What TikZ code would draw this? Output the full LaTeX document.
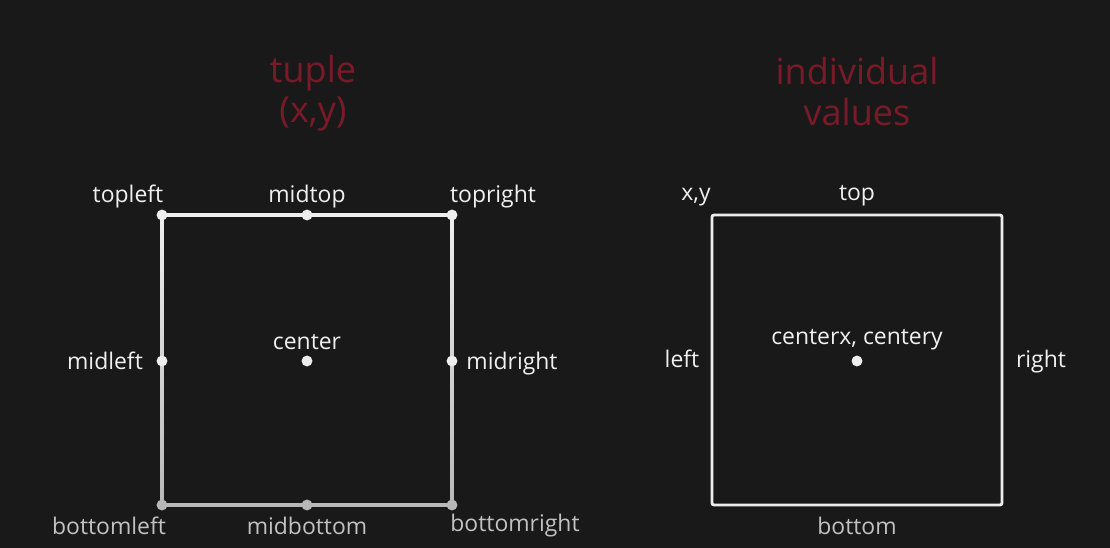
\documentclass[tikz,border=0pt]{standalone}
\usepackage{fontspec}
\setmainfont{Open Sans}
\definecolor{bg}{HTML}{191919}
\definecolor{titlered}{HTML}{7A1A28}
\definecolor{lbl}{HTML}{F0F0F0}
\definecolor{lblgray}{HTML}{C2C2C2}
\definecolor{linew}{HTML}{EEEEEE}
\definecolor{lineg}{HTML}{B8B8B8}
\begin{document}
\begin{tikzpicture}[x=0.75pt,y=-0.75pt,
  lab/.style={font=\fontsize{17.2}{19}\selectfont, text=lbl, inner sep=0pt, anchor=base},
  labg/.style={lab, text=lblgray},
  ttl/.style={font=\fontsize{27}{31}\selectfont, text=titlered, inner sep=0pt, anchor=base},
  dotw/.style={circle, fill=linew, minimum size=8.2pt, inner sep=0pt},
  dotg/.style={circle, fill=lineg, minimum size=8.2pt, inner sep=0pt},
  edgew/.style={draw=linew, line width=2.3pt},
  edgeg/.style={draw=lineg, line width=2.3pt}]
\fill[bg] (0,0) rectangle (1110,548);
\useasboundingbox (0,0) rectangle (1110,548);

% titles
\node[ttl] (t1) at (313,83) {tuple};
\node[ttl] (t2) at (313,123) {(x,y)};
\node[ttl] (t3) at (857,85) {individual};
\node[ttl] (t4) at (857,126) {values};

% left box points
\coordinate (TL) at (162,215);
\coordinate (TM) at (307,215);
\coordinate (TR) at (452,215);
\coordinate (ML) at (162,361);
\coordinate (MR) at (452,361);
\coordinate (BL) at (162,505);
\coordinate (BM) at (307,505);
\coordinate (BR) at (452,505);
\coordinate (C) at (307,361);

% left vertical edges with fade
\shade[top color=linew, bottom color=lineg] (160.6,215) rectangle (163.4,505);
\shade[top color=linew, bottom color=lineg] (450.6,215) rectangle (453.4,505);
\draw[edgew] (TL) -- (TR);
\draw[edgeg] (BL) -- (BR);

\node[dotw] (dTL) at (TL) {};
\node[dotw] (dTM) at (TM) {};
\node[dotw] (dTR) at (TR) {};
\node[dotw] (dML) at (ML) {};
\node[dotw] (dMR) at (MR) {};
\node[dotw] (dC) at (C) {};
\node[dotg] (dBL) at (BL) {};
\node[dotg] (dBM) at (BM) {};
\node[dotg] (dBR) at (BR) {};

\node[lab] (ltl) at (128,203) {topleft};
\node[lab] (ltm) at (307,203) {midtop};
\node[lab] (ltr) at (493,203) {topright};
\node[lab] (lml) at (105,370) {midleft};
\node[lab] (lc) at (307,350) {center};
\node[lab] (lmr) at (512,370) {midright};
\node[labg] (lbl) at (109,535) {bottomleft};
\node[labg] (lbm) at (307,535) {midbottom};
\node[labg] (lbr) at (515,532) {bottomright};

% right box
\draw[draw=linew, line width=2.1pt, rounded corners=1.5pt] (712,215) rectangle (1002,505);
\node[dotw] (rC) at (857,361) {};
\node[lab] (rxy) at (696,201) {x,y};
\node[lab] (rtop) at (857,201) {top};
\node[lab] (rleft) at (682,368) {left};
\node[lab] (rright) at (1041,368) {right};
\node[lab] (rc) at (857,345) {centerx, centery};
\node[labg] (rbot) at (857,535) {bottom};
\end{tikzpicture}
\end{document}
